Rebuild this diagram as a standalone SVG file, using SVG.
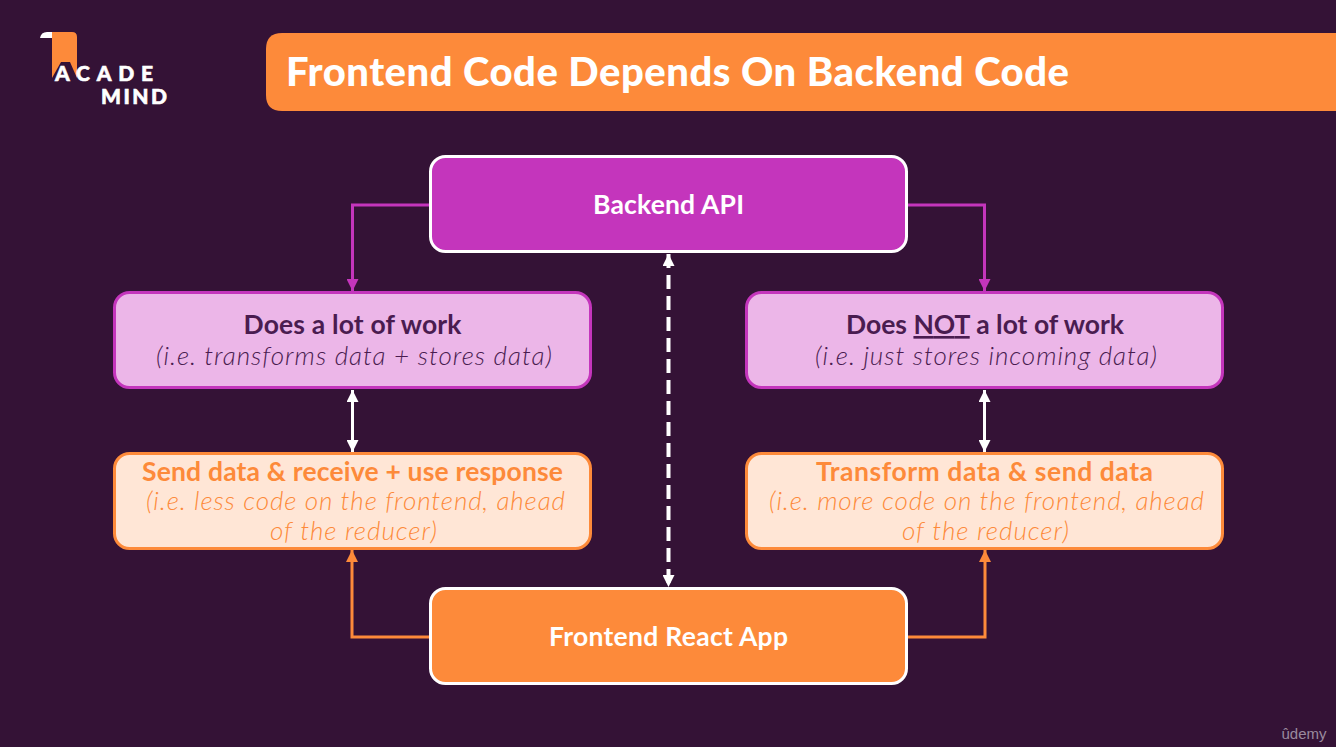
<svg xmlns="http://www.w3.org/2000/svg" width="1336" height="747" viewBox="0 0 1336 747">
<style>
text{font-family:"Lato","Open Sans",sans-serif;text-anchor:middle}
.b{font-weight:700;font-size:26.500px}
.i{font-style:italic;font-weight:300;font-size:26px}
.box{stroke-width:3}
.p{fill:#ecb6e8;stroke:#c435bc}
.o{fill:#ffe6d6;stroke:#fd8a3a}
.dk{fill:#4a1c50}
.og{fill:#fd8a3a}
.w{fill:#fff}
.cp{fill:none;stroke:#c435bc;stroke-width:3}
.co{fill:none;stroke:#fd8a3a;stroke-width:3}
.cw{fill:none;stroke:#fff;stroke-width:3}
.lg{font-weight:900;fill:#fff;stroke:#fff;stroke-width:.6px;font-size:21px;text-anchor:start}
</style>
<defs>
<marker id="mp" markerUnits="userSpaceOnUse" markerWidth="12" markerHeight="12" refX="10" refY="5" viewBox="0 0 10 10" orient="auto"><path d="M0 0L10 5L0 10z" fill="#c435bc"/></marker>
<marker id="mo" markerUnits="userSpaceOnUse" markerWidth="12" markerHeight="12" refX="10" refY="5" viewBox="0 0 10 10" orient="auto"><path d="M0 0L10 5L0 10z" fill="#fd8a3a"/></marker>
<marker id="mw" markerUnits="userSpaceOnUse" markerWidth="12" markerHeight="12" refX="10" refY="5" viewBox="0 0 10 10" orient="auto-start-reverse"><path d="M0 0L10 5L0 10z" fill="#fff"/></marker>
</defs>
<rect width="1336" height="747" fill="#341236"/>
<g id="logo">
<path d="M52 32H72Q77 32 77 37V78L70 62H61L52 78Z" class="og"/>
<path d="M40 38Q41 32 47 32H52V38Z" class="w"/>
<text class="lg" x="55" y="81" textLength="98" lengthAdjust="spacing">ACADE</text>
<text class="lg" x="101" y="104" textLength="66" lengthAdjust="spacing">MIND</text>
</g>
<g id="title">
<path d="M1336 33H282Q266 33 266 49V95Q266 111 282 111H1336Z" class="og"/>
<text x="286" y="86" style="text-anchor:start;font-weight:900;font-size:40px;fill:#fff" textLength="783" lengthAdjust="spacing">Frontend Code Depends On Backend Code</text>
</g>
<g id="connectors">
<path class="cp" d="M430 205H352.500V291" marker-end="url(#mp)"/>
<path class="cp" d="M907 205H984.500V291" marker-end="url(#mp)"/>
<path class="co" d="M430 637H352V550" marker-end="url(#mo)"/>
<path class="co" d="M907 637H985V550" marker-end="url(#mo)"/>
<path class="cw" d="M352.500 390V452" marker-start="url(#mw)" marker-end="url(#mw)"/>
<path class="cw" d="M984.500 390V452" marker-start="url(#mw)" marker-end="url(#mw)"/>
<path class="cw" d="M668.500 254V587" style="stroke-width:4" stroke-dasharray="14 7" marker-start="url(#mw)" marker-end="url(#mw)"/>
</g>
<g id="backend">
<rect x="430.500" y="156.500" width="476" height="95" rx="15" fill="#c435bc" stroke="#fff" class="box"/>
<text class="b w" x="668.500" y="214" textLength="151">Backend API</text>
</g>
<g id="work-left">
<rect x="114.500" y="292.500" width="476" height="95" rx="15" class="box p"/>
<text class="b dk" x="352.500" y="334" textLength="218">Does a lot of work</text>
<text class="i dk" x="354" y="365" textLength="396">(i.e. transforms data + stores data)</text>
</g>
<g id="work-right">
<rect x="746.500" y="292.500" width="476" height="95" rx="15" class="box p"/>
<text class="b dk" x="985" y="334" textLength="278">Does <tspan text-decoration="underline">NOT</tspan> a lot of work</text>
<text class="i dk" x="986" y="365" textLength="342">(i.e. just stores incoming data)</text>
</g>
<g id="send-left">
<rect x="114.500" y="453.500" width="476" height="95" rx="15" class="box o"/>
<text class="b og" x="352.500" y="481" textLength="421">Send data &amp; receive + use response</text>
<text class="i og" x="355.500" y="510" textLength="419">(i.e. less code on the frontend, ahead</text>
<text class="i og" x="353.500" y="540" textLength="167">of the reducer)</text>
</g>
<g id="send-right">
<rect x="746.500" y="453.500" width="476" height="95" rx="15" class="box o"/>
<text class="b og" x="984.500" y="481" textLength="337">Transform data &amp; send data</text>
<text class="i og" x="986.500" y="510" textLength="435">(i.e. more code on the frontend, ahead</text>
<text class="i og" x="985.500" y="540" textLength="167">of the reducer)</text>
</g>
<g id="frontend">
<rect x="430.500" y="588.500" width="476" height="95" rx="15" class="og" stroke="#fff" stroke-width="3"/>
<text class="b w" x="668.500" y="646" textLength="239">Frontend React App</text>
</g>
<text id="udemy" x="1304" y="739" style="font-size:15px;fill:#9a8a9e;font-family:'Liberation Sans',sans-serif">ûdemy</text>
</svg>
